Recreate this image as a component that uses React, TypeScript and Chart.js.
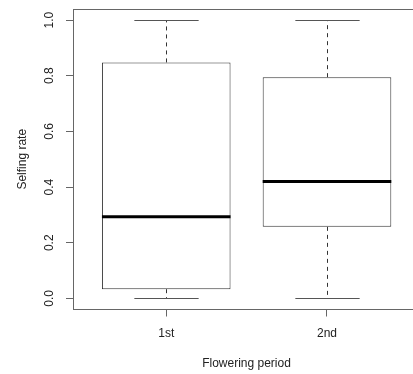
import React, { useEffect, useRef } from "react";
import { Chart, registerables } from "chart.js";

Chart.register(...registerables);

const categories = ["1st", "2nd"];
const whiskerLow = [0, 0];
const quartile1 = [0.033, 0.257];
const medians = [0.293, 0.42];
const quartile3 = [0.848, 0.795];
const whiskerHigh = [1, 1];
const yTicks = [0, 0.2, 0.4, 0.6, 0.8, 1.0];
const yTickLabels = ["0.0", "0.2", "0.4", "0.6", "0.8", "1.0"];
const xTitle = "Flowering period";
const yTitle = "Selfing rate";

const FONT = '"Liberation Sans", Arial, sans-serif';
const TEXT = "#222";
const FRAME = "#666";

const boxPlugin = {
  id: "boxExtras",
  beforeDatasetsDraw(chart: any) {
    const { ctx } = chart;
    const xs = chart.scales.x;
    const ys = chart.scales.y;
    ctx.save();
    categories.forEach((_, i) => {
      const cx = Math.round(xs.getPixelForValue(i + 1)) + 0.5;
      const half = xs.getPixelForValue(i + 1.2) - xs.getPixelForValue(i + 1);
      ctx.strokeStyle = "#333";
      ctx.lineWidth = 1;
      ctx.setLineDash([4, 4]);
      ctx.beginPath();
      ctx.moveTo(cx, ys.getPixelForValue(quartile3[i]));
      ctx.lineTo(cx, ys.getPixelForValue(whiskerHigh[i]));
      ctx.moveTo(cx, ys.getPixelForValue(quartile1[i]));
      ctx.lineTo(cx, ys.getPixelForValue(whiskerLow[i]));
      ctx.stroke();
      ctx.setLineDash([]);
      ctx.strokeStyle = "#555";
      ctx.beginPath();
      const yh = Math.round(ys.getPixelForValue(whiskerHigh[i])) + 0.5;
      const yl = Math.round(ys.getPixelForValue(whiskerLow[i])) + 0.5;
      ctx.moveTo(cx - half, yh);
      ctx.lineTo(cx + half, yh);
      ctx.moveTo(cx - half, yl);
      ctx.lineTo(cx + half, yl);
      ctx.stroke();
    });
    ctx.restore();
  },
  afterDatasetsDraw(chart: any) {
    const { ctx } = chart;
    const xs = chart.scales.x;
    const ys = chart.scales.y;
    ctx.save();
    categories.forEach((_, i) => {
      const l = xs.getPixelForValue(i + 0.6);
      const r = xs.getPixelForValue(i + 1.4);
      const ym = ys.getPixelForValue(medians[i]);
      ctx.strokeStyle = "#000";
      ctx.lineWidth = 3;
      ctx.beginPath();
      ctx.moveTo(l, ym);
      ctx.lineTo(r, ym);
      ctx.stroke();
    });
    ctx.restore();
  },
  afterDraw(chart: any) {
    const { ctx, chartArea } = chart;
    const xs = chart.scales.x;
    const ys = chart.scales.y;
    ctx.save();
    ctx.strokeStyle = FRAME;
    ctx.lineWidth = 1;
    ctx.beginPath();
    ctx.moveTo(chartArea.left, Math.round(chartArea.top) + 0.5);
    ctx.lineTo(chartArea.right, Math.round(chartArea.top) + 0.5);
    ctx.stroke();

    ctx.fillStyle = TEXT;
    ctx.font = `12px ${FONT}`;
    ctx.textAlign = "center";
    ctx.textBaseline = "middle";
    yTicks.forEach((v, i) => {
      const py = ys.getPixelForValue(v);
      ctx.save();
      ctx.translate(50, py);
      ctx.rotate(-Math.PI / 2);
      ctx.fillText(yTickLabels[i], 0, 0);
      ctx.restore();
    });
    categories.forEach((c, i) => {
      ctx.fillText(c, xs.getPixelForValue(i + 1), 334);
    });
    ctx.fillText(xTitle, (chartArea.left + 420) / 2, 364);
    ctx.save();
    ctx.translate(23, (chartArea.top + chartArea.bottom) / 2);
    ctx.rotate(-Math.PI / 2);
    ctx.fillText(yTitle, 0, 0);
    ctx.restore();
    ctx.restore();
  },
};

export default function App() {
  const ref = useRef<HTMLCanvasElement | null>(null);
  useEffect(() => {
    if (!ref.current) return;
    const chart = new Chart(ref.current, {
      type: "bar",
      data: {
        datasets: [
          {
            data: categories.map((_, i) => ({ x: i + 1, y: [quartile1[i], quartile3[i]] })) as any,
            backgroundColor: "#ffffff",
            borderColor: "#333",
            borderWidth: 1,
            borderSkipped: false,
            barPercentage: 1,
            categoryPercentage: 0.8,
          },
        ],
      },
      options: {
        responsive: false,
        animation: false,
        devicePixelRatio: 1,
        layout: { padding: { top: 9, left: 0, right: 0, bottom: 0 } },
        plugins: { legend: { display: false }, tooltip: { enabled: false } },
        scales: {
          x: {
            type: "linear",
            offset: false,
            min: 0.42,
            max: 2.535,
            afterBuildTicks: (s: any) => {
              s.ticks = categories.map((_, i) => ({ value: i + 1 }));
            },
            afterFit: (s: any) => {
              s.height = 64.5;
            },
            ticks: { display: false },
            grid: { offset: false, drawOnChartArea: false, drawTicks: true, tickLength: 7, color: FRAME },
            border: { display: true, color: FRAME, width: 1 },
          },
          y: {
            type: "linear",
            min: -0.04,
            max: 1.04,
            afterBuildTicks: (s: any) => {
              s.ticks = yTicks.map((v) => ({ value: v }));
            },
            afterFit: (s: any) => {
              s.width = 73;
            },
            ticks: { display: false },
            grid: { drawOnChartArea: false, drawTicks: true, tickLength: 7, color: FRAME },
            border: { display: true, color: FRAME, width: 1 },
          },
        },
      },
      plugins: [boxPlugin],
    });
    return () => chart.destroy();
  }, []);
  return (
    <div style={{ position: "fixed", left: 0, top: 0, width: 413, height: 374, background: "#fff" }}>
      <canvas ref={ref} width={413} height={374} style={{ display: "block" }} />
    </div>
  );
}
